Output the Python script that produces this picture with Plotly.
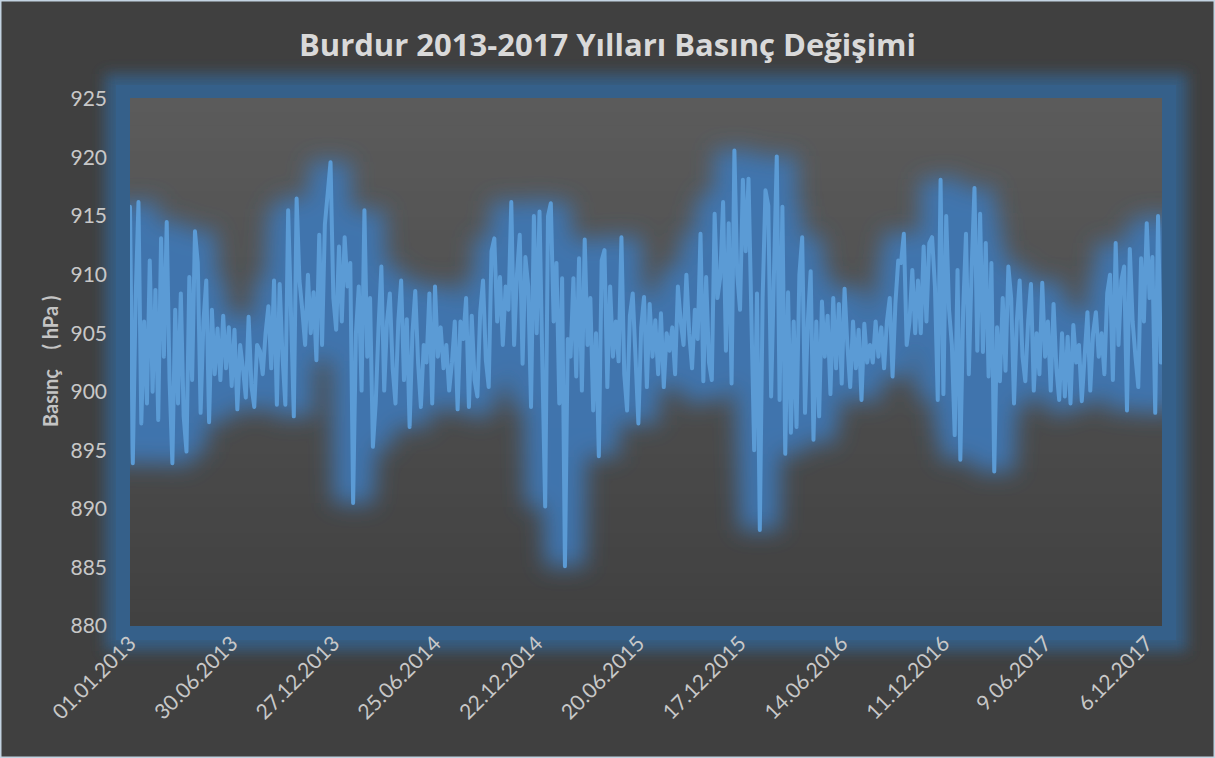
import pandas as pd
import plotly.graph_objects as go

# daily pressure, one value every 5 days (01.01.2013 - 31.12.2017)
start_date = "2013-01-01"
step_days = 5
pressure = [
    915.8, 893.9, 908, 916.2, 897.3, 906, 899, 911.2, 900, 908.7,
    897.6, 913.1, 903, 914.5, 901, 893.9, 907, 899, 908.4, 897.9,
    894.9, 909.8, 901, 913.7, 911.0, 898.2, 906, 909.5, 897.4, 907.0,
    901.5, 905.4, 901, 906.5, 902, 905.5, 900.5, 905.3, 898.5, 904,
    902, 899.5, 906.4, 900.5, 898.7, 904, 903.5, 901.5, 905, 907.3,
    902, 909.5, 898.9, 909.2, 903, 898.9, 915.5, 905, 897.9, 916.5,
    909.5, 907, 904, 910, 905, 908.5, 902.7, 913.4, 904, 914.3,
    917, 919.6, 908, 905.3, 912.4, 906, 913.2, 909, 911, 890.5,
    905, 909, 900.1, 915.5, 903, 908, 895.3, 899, 905.5, 910.7,
    900.1, 906, 908.4, 902, 899, 906, 909.5, 901, 906.2, 897,
    905, 908.6, 902.5, 898.7, 904, 902.5, 908.4, 899, 909, 903,
    905.5, 902, 904, 900.1, 902.5, 906, 898.5,
    906, 904.5, 908, 898.7, 906.5, 901, 899.6, 906.8, 909.5, 902.7,
    900.4, 912, 913.1, 906, 909.8, 904, 909, 907, 916.2, 904,
    910, 913.4, 902.4, 911.5, 909, 898.7, 915, 905, 915.4, 902.4,
    890.2, 915, 916.1, 906, 911, 899, 909.7, 885.1, 904.5,
    903, 909.7, 901.3, 911.4, 900.1, 913, 904, 908, 898.4, 905,
    894.5, 911.2, 912.1, 900.4, 909, 903, 906, 902.6, 913.2, 901.5,
    898.4, 906.5, 908.4, 903, 897.3, 905.5, 908.1, 900.4, 907.5, 903,
    906.1, 901.5, 906.7, 900.4, 905, 903.5, 905.5, 901.5, 909,
    906, 904, 910, 905, 902, 907, 904.5, 913.5, 900.9, 909.8,
    902.5, 901, 915.2, 908, 909.8, 916.2, 903.5, 914.4, 900.7, 920.6,
    910, 907, 918.1, 912, 918.2, 905, 895, 908.4, 888.2, 908,
    917.2, 915.9, 899.6, 910, 920.1, 899.3, 915.8, 894.7, 908.5,
    896.5, 906, 897, 910, 913.2, 898.2, 906, 910.3, 895.9, 906,
    897.9, 907.7, 903, 906.5, 899.8, 908, 902, 907.5, 900.7, 908.8,
    904, 900.4, 906, 902, 905.3, 899.3, 905.8, 902.5, 904, 902.5,
    906, 903, 905.5, 902, 906, 908, 901.3, 907.5, 911.2,
    911, 913.5, 904, 906, 910.4, 905, 909.5, 905, 912.4, 906,
    912.7, 913.2, 909, 899.3, 918.1, 899.8, 915, 907, 904, 896.3,
    910.4, 894.2, 907, 913.5, 901.5, 910.5, 917.4, 903.5, 915.2, 903.4,
    912.7, 901.3, 911, 893.2, 905.5, 900.9, 908, 901.8, 910.7,
    908, 899, 906, 909.5, 903, 900.9, 906, 909.2, 900.1, 905,
    901.5, 909.3, 903, 906, 900.1, 907.5, 902, 899.3, 905, 899.6,
    904.7, 899, 905.7, 902.5, 904, 899.2, 903, 906.8, 900.1, 905,
    906.8, 903, 905, 901.5, 908.4, 910, 901, 912.7, 904, 909.5,
    910.7, 898.4, 912.2, 906, 903, 900.4, 911.4, 906, 914.4, 908,
    911.5, 898.2, 915, 902.5,
]

tick_dates = ["2013-01-01", "2013-06-30", "2013-12-27", "2014-06-25", "2014-12-22", "2015-06-20",
              "2015-12-17", "2016-06-14", "2016-12-11", "2017-06-09", "2017-12-06"]
tick_labels = ["01.01.2013", "30.06.2013", "27.12.2013", "25.06.2014", "22.12.2014", "20.06.2015",
               "17.12.2015", "14.06.2016", "11.12.2016", "9.06.2017", "6.12.2017"]
y_ticks = [880, 885, 890, 895, 900, 905, 910, 915, 920, 925]

dates = pd.date_range(start_date, periods=len(pressure), freq=f"{step_days}D")

W, H = 1215, 758
L, R, T, B = 130, 53, 99, 132
pw, ph = W - L - R, H - T - B
bg = "#404040"
font = "Lato, 'Open Sans', sans-serif"

fig = go.Figure()

# glow under the line (blurred in the page, see post_js)
fig.add_trace(go.Scatter(x=dates, y=pressure, mode="lines", hoverinfo="skip",
                         line=dict(color="rgba(62,118,178,0.95)", width=40), showlegend=False))
fig.add_trace(go.Scatter(x=dates, y=pressure, mode="lines", name="Basınç",
                         line=dict(color="#5b9bd5", width=4), showlegend=False))

shapes = []
dx, dy = 7 / pw, 7 / ph
# frame glow (blurred) + frame
shapes.append(dict(type="rect", xref="paper", yref="paper", x0=-dx, x1=1 + dx, y0=-dy, y1=1 + dy,
                   line=dict(color="rgba(53,96,138,0.9)", width=36), layer="below"))
shapes.append(dict(type="rect", xref="paper", yref="paper", x0=-dx, x1=1 + dx, y0=-dy, y1=1 + dy,
                   line=dict(color="#35608a", width=14), layer="below"))
# plot area gradient (lighter at top)
n = 40
for i in range(n):
    t = i / (n - 1)
    g = int(round(0x41 + (0x5b - 0x41) * t))
    shapes.append(dict(type="rect", xref="paper", yref="paper", x0=0, x1=1, y0=i / n, y1=(i + 1) / n + 0.002,
                       fillcolor=f"rgb({g},{g},{g})", line=dict(width=0), layer="below"))
# outer window border
shapes.append(dict(type="rect", xref="paper", yref="paper",
                   x0=-L / pw, x1=(W - L) / pw, y0=-B / ph, y1=(H - B) / ph,
                   line=dict(color="#c3d3e2", width=3), layer="below"))

fig.update_layout(
    width=W, height=H,
    margin=dict(l=L, r=R, t=T, b=B),
    paper_bgcolor=bg, plot_bgcolor=bg,
    shapes=shapes,
    title=dict(text="<b>Burdur 2013-2017 Yılları Basınç Değişimi</b>", x=0.5, xanchor="center",
               y=1 - 45 / H, yref="container", yanchor="middle",
               font=dict(family="'Open Sans', Lato, sans-serif", size=31, color="#d9d9d9")),
    annotations=[dict(text="<b>Basınç\u00a0\u00a0\u00a0\u00a0( hPa )</b>", xref="paper", yref="paper",
                      x=(50 - L) / pw, y=(626 - 362) / ph, textangle=-90, showarrow=False,
                      xanchor="center", yanchor="middle",
                      font=dict(family=font, size=20, color="#c4c4c4"))],
)
fig.update_xaxes(type="date", range=["2013-01-01", "2018-01-02"], tickvals=tick_dates, ticktext=tick_labels,
                 tickangle=-45, showgrid=False, zeroline=False, showline=False,
                 tickfont=dict(family=font, size=21, color="#c8c8c8"), ticks="")
fig.update_yaxes(range=[880, 925], tickvals=y_ticks, showgrid=False, zeroline=False, showline=False,
                 ticks="", ticklabelstandoff=22,
                 tickfont=dict(family=font, size=21, color="#c8c8c8"))

post_js = """
document.body.style.margin = '0';
var gd = document.getElementById('{plot_id}');
var ns = 'http://www.w3.org/2000/svg';
var svg = gd.querySelector('svg.main-svg');
var defs = svg.querySelector('defs');
function addBlur(id, sd) {
  var f = document.createElementNS(ns, 'filter');
  f.setAttribute('id', id);
  f.setAttribute('x', '-20%'); f.setAttribute('y', '-40%');
  f.setAttribute('width', '140%'); f.setAttribute('height', '180%');
  var b = document.createElementNS(ns, 'feGaussianBlur');
  b.setAttribute('stdDeviation', sd);
  f.appendChild(b);
  defs.appendChild(f);
}
addBlur('lineglow', 11);
addBlur('frameglow', 7);
var tr = gd.querySelectorAll('.scatterlayer .trace');
tr[0].setAttribute('filter', 'url(#lineglow)');
var main = tr[tr.length - 1].querySelector('path.js-line');
if (main) { main.style.strokeLinejoin = 'round'; main.style.strokeLinecap = 'round'; }
var fg = gd.querySelector('.shapelayer path[data-index="0"]');
if (fg) fg.setAttribute('filter', 'url(#frameglow)');
"""

fig.write_html("out.html", post_script=post_js, config={"displayModeBar": False})
